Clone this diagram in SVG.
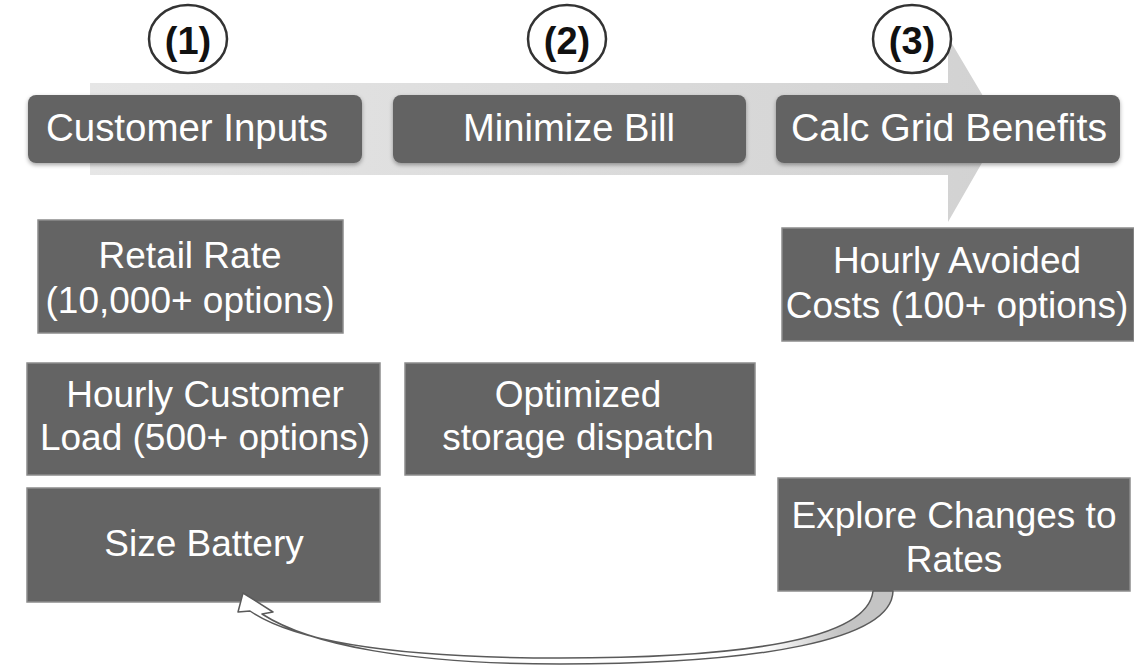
<svg xmlns="http://www.w3.org/2000/svg" width="1134" height="667" viewBox="0 0 1134 667">
<defs>
<linearGradient id="arrowGrad" x1="0" y1="0" x2="1" y2="0">
<stop offset="0" stop-color="#e6e6e6"/>
<stop offset="1" stop-color="#d2d2d2"/>
</linearGradient>
<linearGradient id="loopGrad" gradientUnits="userSpaceOnUse" x1="238" y1="0" x2="893" y2="0">
<stop offset="0" stop-color="#ffffff"/>
<stop offset="0.8" stop-color="#ffffff"/>
<stop offset="0.92" stop-color="#c4c4c4"/>
<stop offset="1" stop-color="#c4c4c4"/>
</linearGradient>
<filter id="shadow" x="-5%" y="-10%" width="110%" height="130%">
<feDropShadow dx="0" dy="2" stdDeviation="2" flood-color="#000" flood-opacity="0.35"/>
</filter>
</defs>
<style>
.step{fill:#646464;filter:url(#shadow)}
.box{fill:#646464;stroke:#8c8c8c;stroke-width:1.5}
.lbl{font-family:"Liberation Sans",Arial,sans-serif;fill:#fff;text-anchor:middle;font-size:37px}
.hd{font-family:"Liberation Sans",Arial,sans-serif;fill:#fff;text-anchor:middle;font-size:38px}
.num{font-family:"Liberation Sans",Arial,sans-serif;fill:#111;text-anchor:middle;font-size:38px;font-weight:bold}
.circ{fill:#fff;stroke:#333;stroke-width:2.5}
</style>
<rect width="1134" height="667" fill="#fff"/>
<g id="process-arrow">
<polygon points="90,83 948,83 948,37 1002,128 948,222 948,175 90,175" fill="url(#arrowGrad)"/>
</g>
<g id="step1-num"><ellipse class="circ" cx="188" cy="39" rx="39" ry="34"/><text class="num" x="188" y="54">(1)</text></g>
<g id="step2-num"><ellipse class="circ" cx="567" cy="39" rx="39" ry="34"/><text class="num" x="567" y="54">(2)</text></g>
<g id="step3-num"><ellipse class="circ" cx="912" cy="39" rx="39" ry="34"/><text class="num" x="912" y="54">(3)</text></g>
<g id="customer-inputs"><rect class="step" x="28" y="95" width="334" height="68" rx="8"/><text class="hd" x="187" y="141" textLength="282" lengthAdjust="spacingAndGlyphs">Customer Inputs</text></g>
<g id="minimize-bill"><rect class="step" x="393" y="95" width="353" height="68" rx="8"/><text class="hd" x="569" y="141" textLength="212" lengthAdjust="spacingAndGlyphs">Minimize Bill</text></g>
<g id="calc-grid-benefits"><rect class="step" x="776" y="95" width="344" height="68" rx="8"/><text class="hd" x="949" y="141" textLength="316" lengthAdjust="spacingAndGlyphs">Calc Grid Benefits</text></g>
<g id="retail-rate"><rect class="box" x="38" y="220" width="305" height="113"/><text class="lbl" x="190" y="268">Retail Rate</text><text class="lbl" x="190" y="313">(10,000+ options)</text></g>
<g id="hourly-load"><rect class="box" x="27" y="363" width="353" height="112"/><text class="lbl" x="205" y="407">Hourly Customer</text><text class="lbl" x="205" y="450">Load (500+ options)</text></g>
<g id="size-battery"><rect class="box" x="27" y="488" width="353" height="114"/><text class="lbl" x="204" y="556">Size Battery</text></g>
<g id="optimized-dispatch"><rect class="box" x="405" y="363" width="350" height="112"/><text class="lbl" x="578" y="407">Optimized</text><text class="lbl" x="578" y="450">storage dispatch</text></g>
<g id="avoided-costs"><rect class="box" x="782" y="228" width="352" height="113"/><text class="lbl" x="957" y="273">Hourly Avoided</text><text class="lbl" x="957" y="318">Costs (100+ options)</text></g>
<g id="explore-rates"><rect class="box" x="778" y="478" width="352" height="113"/><text class="lbl" x="954" y="528">Explore Changes to</text><text class="lbl" x="954" y="572">Rates</text></g>
<g id="connectors">
<path d="M 893 591 C 892 640 760 664 560 664 C 410 664 310 645 262 614 L 273 612 L 243 593 L 238 612 L 250 611 C 300 645 410 658 560 658 C 740 658 868 640 873 591 Z" fill="url(#loopGrad)" stroke="#5a5a5a" stroke-width="1.5" stroke-linejoin="round"/>
</g>
</svg>
